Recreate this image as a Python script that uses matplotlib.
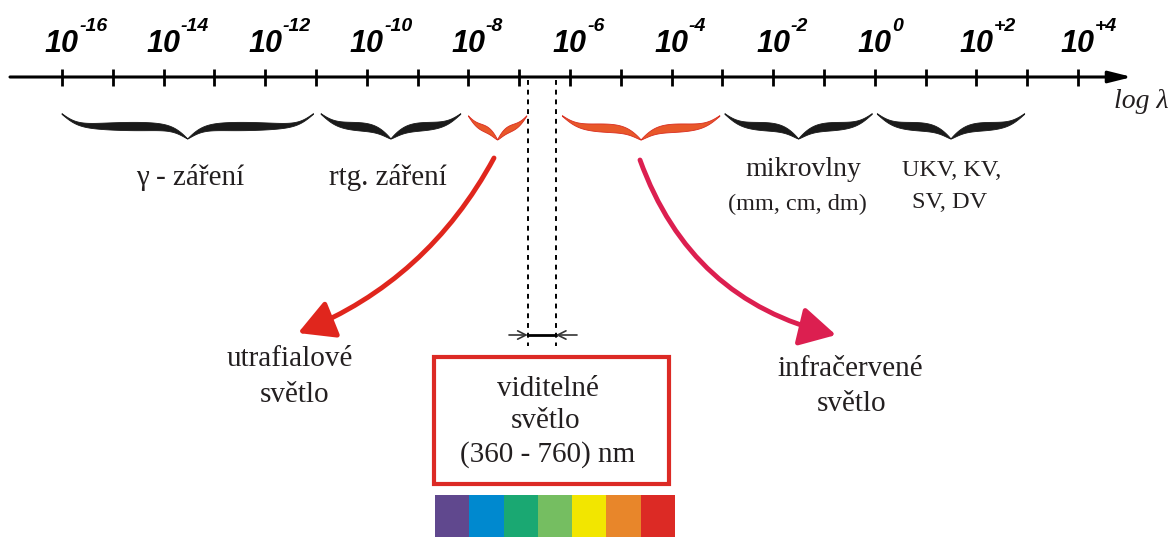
import numpy as np
import matplotlib.pyplot as plt
from matplotlib.patches import Rectangle, FancyArrowPatch

# decades on the log lambda axis
exponents = list(range(-16, 5))
label_exps = [-16, -14, -12, -10, -8, -6, -4, -2, 0, 2, 4]
label_sup = ['-16', '-14', '-12', '-10', '-8', '-6', '-4', '-2', '0', '+2', '+4']

# spectral regions (log10 of wavelength): start, end
band_start = [-16.0, -10.9, -8.0, -6.15, -2.95, 0.05]
band_end = [-11.05, -8.15, -6.85, -3.05, -0.05, 2.95]
band_hot = [False, False, True, True, False, False]

# visible light window
vis_lo = -6.83
vis_hi = -6.28

# colour strip
spectrum = ['#60488e', '#0089cf', '#1aa872', '#75be61', '#f2e600', '#e8862a', '#dc2a25']

TXT = '#231f20'
SERIF = 'Liberation Serif'
SANS = 'Liberation Sans'
PX = 50.8  # pixels per decade


def X(p):
    # pixel column -> log lambda
    return -16 + (p - 62) / PX


fig = plt.figure(figsize=(11.75, 5.37), dpi=100)
ax = fig.add_axes([0, 0, 1, 1])
ax.set_xlim(X(0), X(1175))
ax.set_ylim(537, 0)
ax.axis('off')

# main axis with arrow
ax.annotate('', xy=(X(1132), 77), xytext=(X(10), 77),
            arrowprops=dict(arrowstyle='-|>,head_length=1.4,head_width=0.35',
                            lw=2.2, color='k', mutation_scale=10,
                            shrinkA=0, shrinkB=0))
ax.vlines(exponents, 69, 86, color='k', lw=2)

for e, s in zip(label_exps, label_sup):
    ax.text(e, 52, '10', ha='center', va='baseline', fontsize=22,
            family=SANS, weight='bold', style='italic', color='k')
    ax.text(e + 0.34, 31, s, ha='left', va='baseline', fontsize=14,
            family=SANS, weight='bold', style='italic', color='k')

ax.text(X(1168), 108, 'log λ', ha='right', va='baseline', fontsize=20,
        family=SERIF, style='italic', color=TXT)


def brace(x0, x1, ytop, depth, fc, ec):
    xm = (x0 + x1) / 2
    half = (xm - x0) * PX
    b = half / min(8.0, half / 6.0)
    u = np.linspace(0, 1, 300)
    f = 1 / (1 + np.exp(-b * u)) + 1 / (1 + np.exp(-b * (u - 1))) - 0.5
    yc = ytop + depth * f
    prof = u ** 1.2 * (1 - u) ** 0.8
    th = 8.0 * prof / prof.max() + 0.8 * (1 - u)
    if half < 40:
        th = th * 0.8
    xs = x0 + u * (xm - x0)
    xl = np.concatenate([xs, 2 * xm - xs[::-1]])
    yl = np.concatenate([yc, yc[::-1]])
    tl = np.concatenate([th, th[::-1]])
    ax.fill(np.concatenate([xl, xl[::-1]]),
            np.concatenate([yl - tl / 2, (yl + tl / 2)[::-1]]),
            fc=fc, ec=ec, lw=0.6)


for s, e, hot in zip(band_start, band_end, band_hot):
    if hot:
        brace(s, e, 116, 24, '#e8582a', '#d92d20')
    else:
        brace(s, e, 114, 25, '#1a1a1a', '#1a1a1a')

# band labels
ax.text(X(190), 185, 'γ - záření', ha='center', va='baseline', fontsize=21, family=SERIF, color=TXT)
ax.text(X(388), 185, 'rtg. záření', ha='center', va='baseline', fontsize=21, family=SERIF, color=TXT)
ax.text(X(803), 176, 'mikrovlny', ha='center', va='baseline', fontsize=20, family=SERIF, color=TXT)
ax.text(X(797), 210, '(mm, cm, dm)', ha='center', va='baseline', fontsize=17.5, family=SERIF, color=TXT)
ax.text(X(952), 176, 'UKV, KV,', ha='center', va='baseline', fontsize=17.5, family=SERIF, color=TXT)
ax.text(X(950), 208, 'SV, DV', ha='center', va='baseline', fontsize=17.5, family=SERIF, color=TXT)

ax.text(X(290), 366, 'utrafialové', ha='center', va='baseline', fontsize=21, family=SERIF, color=TXT)
ax.text(X(295), 402, 'světlo', ha='center', va='baseline', fontsize=21, family=SERIF, color=TXT)
ax.text(X(850), 376, 'infračervené', ha='center', va='baseline', fontsize=21, family=SERIF, color=TXT)
ax.text(X(852), 411, 'světlo', ha='center', va='baseline', fontsize=21, family=SERIF, color=TXT)

# curved arrows from UV and IR braces
ax.add_patch(FancyArrowPatch((X(494), 158), (X(298), 333),
                             connectionstyle='arc3,rad=-0.18',
                             arrowstyle='-|>,head_length=1.1,head_width=0.6',
                             mutation_scale=20, lw=3.5, color='#e0261d',
                             shrinkA=0, shrinkB=0))
ax.add_patch(FancyArrowPatch((X(640), 160), (X(836), 335),
                             connectionstyle='arc3,rad=0.27',
                             arrowstyle='-|>,head_length=1.1,head_width=0.6',
                             mutation_scale=20, lw=3.5, color='#dc1f50',
                             shrinkA=0, shrinkB=0))

# visible window: dotted lines and dimension arrows
ax.vlines([vis_lo, vis_hi], 80, 346, color='k', lw=1.4, linestyles=(0, (2.5, 2.5)))
ax.plot([vis_lo, vis_hi], [335, 335], color='k', lw=2)
ax.annotate('', xy=(vis_lo, 335), xytext=(X(509), 335),
            arrowprops=dict(arrowstyle='->,head_length=0.5,head_width=0.25',
                            lw=1.2, color='#333333', mutation_scale=12,
                            shrinkA=0, shrinkB=0))
ax.annotate('', xy=(vis_hi, 335), xytext=(X(577), 335),
            arrowprops=dict(arrowstyle='->,head_length=0.5,head_width=0.25',
                            lw=1.2, color='#333333', mutation_scale=12,
                            shrinkA=0, shrinkB=0))

# visible light box
ax.add_patch(Rectangle((X(434), 357), X(669) - X(434), 127, fill=False,
                       ec='#dc2a25', lw=3))
ax.text(X(548), 396, 'viditelné', ha='center', va='baseline', fontsize=21, family=SERIF, color=TXT)
ax.text(X(546), 428, 'světlo', ha='center', va='baseline', fontsize=21, family=SERIF, color=TXT)
ax.text(X(548), 462, '(360 - 760) nm', ha='center', va='baseline', fontsize=21, family=SERIF, color=TXT)

# colour strip
w = (X(675) - X(435)) / len(spectrum)
left = X(435) + w * np.arange(len(spectrum))
ax.bar(left, 42, width=w, bottom=495, align='edge', color=spectrum, lw=0)

fig.savefig('out.png', dpi=100)
